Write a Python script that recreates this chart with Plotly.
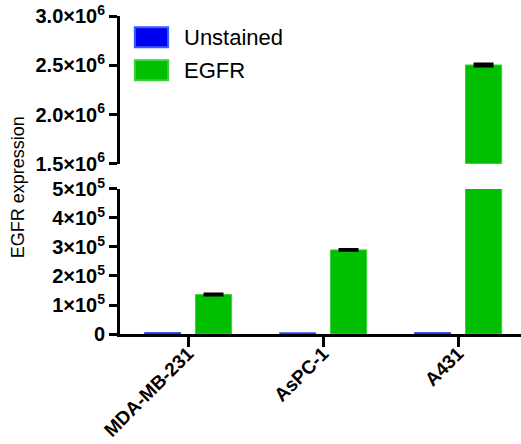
import plotly.graph_objects as go

categories = ["MDA-MB-231", "AsPC-1", "A431"]
series_names = ["Unstained", "EGFR"]
unstained = [5000, 4000, 5000]
egfr = [136000, 290000, 2503000]
egfr_err = [2500, 2500, 12000]

lower_ticks = [0, 1e5, 2e5, 3e5, 4e5, 5e5]
lower_labels = ["0", "1×10<sup>5</sup>", "2×10<sup>5</sup>", "3×10<sup>5</sup>", "4×10<sup>5</sup>", "5×10<sup>5</sup>"]
upper_ticks = [1.5e6, 2.0e6, 2.5e6, 3.0e6]
upper_labels = ["1.5×10<sup>6</sup>", "2.0×10<sup>6</sup>", "2.5×10<sup>6</sup>", "3.0×10<sup>6</sup>"]

BLUE = "#0000F0"
BLUE_EDGE = "#3A5CFF"
GREEN = "#00BF00"
GREEN_EDGE = "#3CD03C"
FONT = "Liberation Sans, Arial, sans-serif"

fig = go.Figure()
for xa, ya in [("x", "y"), ("x2", "y2")]:
    fig.add_trace(go.Bar(
        x=categories, y=unstained, name=series_names[0], xaxis=xa, yaxis=ya,
        marker=dict(color=BLUE, line=dict(color=BLUE_EDGE, width=1)),
        showlegend=False,
    ))
    fig.add_trace(go.Bar(
        x=categories, y=egfr, name=series_names[1], xaxis=xa, yaxis=ya,
        marker=dict(color=GREEN, line=dict(color=GREEN_EDGE, width=1)),
        error_y=dict(type="data", array=egfr_err, color="black", thickness=2.5, width=10),
        showlegend=False,
    ))

# custom legend (large swatches like the reference)
legend_shapes = []
legend_annots = []
for i, (nm, col, edge) in enumerate([(series_names[0], BLUE, BLUE_EDGE), (series_names[1], GREEN, GREEN_EDGE)]):
    y_top = 0.965 - i * 0.104
    y_bot = y_top - 0.063
    legend_shapes.append(dict(type="rect", xref="paper", yref="paper",
                              x0=0.037, x1=0.12, y0=y_bot, y1=y_top,
                              fillcolor=col, line=dict(color=edge, width=2)))
    legend_annots.append(dict(text=nm, xref="paper", yref="paper", x=0.155,
                              y=(y_top + y_bot) / 2, xanchor="left", yanchor="middle",
                              showarrow=False, font=dict(size=22, family=FONT, color="black")))

xr = [-0.504, 2.466]
fig.update_layout(
    width=521, height=444,
    margin=dict(l=120, r=0, t=16, b=110, autoexpand=False),
    paper_bgcolor="white", plot_bgcolor="white",
    barmode="group", bargap=0.245, bargroupgap=0.29,
    font=dict(family=FONT, color="black"),
    showlegend=False,
    xaxis=dict(domain=[0, 1], range=xr, anchor="y", showline=True, linecolor="black",
               linewidth=3, ticks="outside", ticklen=10, tickwidth=3, tickcolor="black",
               tickangle=-45, tickfont=dict(size=19, family=FONT, weight="bold"),
               ticklabelstandoff=-12,
               ticklabeloverflow="allow", automargin=False,
               showgrid=False, zeroline=False),
    xaxis2=dict(domain=[0, 1], range=xr, anchor="y2", matches="x", visible=False,
                automargin=False),
    yaxis=dict(domain=[0, 0.456], range=[0, 5e5], anchor="x", showline=True,
               linecolor="black", linewidth=3, ticks="outside", ticklen=8, tickwidth=3,
               tickcolor="black", tickvals=lower_ticks, ticktext=lower_labels,
               tickfont=dict(size=20, family=FONT, weight="bold"),
               ticklabeloverflow="allow", automargin=False,
               showgrid=False, zeroline=False),
    yaxis2=dict(domain=[0.535, 1], range=[1.5e6, 3.0e6], anchor="x2", showline=True,
                linecolor="black", linewidth=3, ticks="outside", ticklen=8, tickwidth=3,
                tickcolor="black", tickvals=upper_ticks, ticktext=upper_labels,
                tickfont=dict(size=20, family=FONT, weight="bold"),
                ticklabeloverflow="allow", automargin=False,
                showgrid=False, zeroline=False),
    shapes=legend_shapes,
    annotations=[dict(text="EGFR expression", xref="paper", yref="paper",
                      x=-0.254, y=0.462, textangle=-90, showarrow=False,
                      xanchor="center", yanchor="middle",
                      font=dict(size=18, family=FONT))] + legend_annots,
)

fig.write_html("out.html", config={"displayModeBar": False},
               post_script="document.body.style.margin='0';")
